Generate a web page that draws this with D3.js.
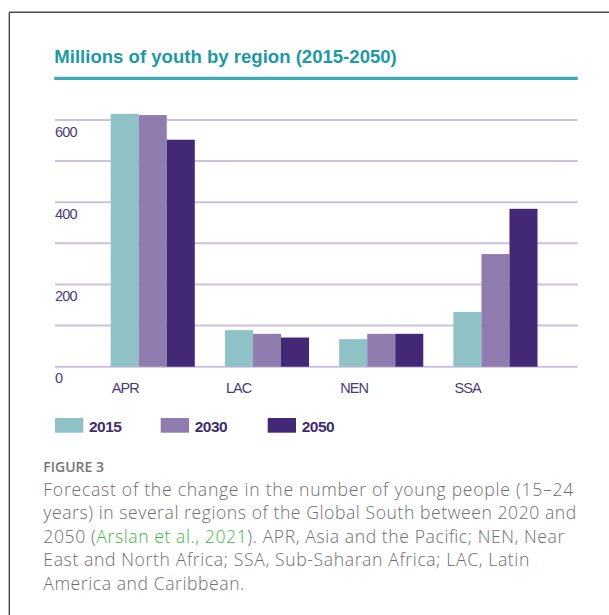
<!DOCTYPE html>
<html>
<head>
<meta charset="utf-8">
<script src="https://cdn.jsdelivr.net/npm/d3@7"></script>
<style>
  html, body { margin: 0; padding: 0; background: #fff; }
  svg { display: block; }
</style>
</head>
<body>
<svg id="chart" width="609" height="615"></svg>
<script>
// ---- data ----
const regions = ["APR", "LAC", "NEN", "SSA"];
const seriesNames = ["2015", "2030", "2050"];
const values2015 = [615, 89, 67, 133];
const values2030 = [612, 80, 80, 274];
const values2050 = [552, 71, 80, 384];
const gridTicks = [0, 100, 200, 300, 400, 500, 600];
const labelTicks = [0, 200, 400, 600];
const titleText = "Millions of youth by region (2015-2050)";
const figureLabel = "FIGURE 3";
const captionLines = [
  [["Forecast of the change in the number of young people (15\u201324", 0]],
  [["years) in several regions of the Global South between 2020 and", 0]],
  [["2050 (", 0], ["Arslan et al., 2021", 1], ["). APR, Asia and the Pacific; NEN, Near", 0]],
  [["East and North Africa; SSA, Sub-Saharan Africa; LAC, Latin", 0]],
  [["America and Caribbean.", 0]]
];

// ---- styles ----
const colors = ["#8fc2c6", "#907cae", "#432876"];
const gridColor = "#cbc0dd";
const axisTextColor = "#4a3c78";
const tealTitle = "#1b9aa6";
const captionGray = "#6e6e6e";
const linkGreen = "#3db54a";

const seriesValues = [values2015, values2030, values2050];
const table = regions.map((r, i) => ({
  region: r,
  vals: seriesNames.map((s, j) => ({ series: s, idx: j, value: seriesValues[j][i] }))
}));

const svg = d3.select("#chart");

// frame
svg.append("line").attr("x1", 9.3).attr("x2", 609).attr("y1", 12.3).attr("y2", 12.3)
  .attr("stroke", "#4a4a4a").attr("stroke-width", 1.4);
svg.append("line").attr("x1", 9.3).attr("x2", 9.3).attr("y1", 12.3).attr("y2", 615)
  .attr("stroke", "#4a4a4a").attr("stroke-width", 1.4);

// title
svg.append("text")
  .attr("x", 54.3).attr("y", 63.3)
  .attr("font-family", "'Liberation Sans', Arial, sans-serif")
  .attr("font-weight", "bold")
  .attr("font-size", 19)
  .attr("fill", tealTitle)
  .attr("textLength", 342.5)
  .attr("lengthAdjust", "spacingAndGlyphs")
  .text(titleText);
svg.append("line").attr("x1", 54.3).attr("x2", 577.7).attr("y1", 78.3).attr("y2", 78.3)
  .attr("stroke", "#3aabb7").attr("stroke-width", 3.2);

// scales
const y = d3.scaleLinear().domain([0, 600]).range([366.7, 120]);
const x0 = d3.scaleBand().domain(regions).range([110.7, 537.5]).paddingInner(0.264).paddingOuter(0);
const x1 = d3.scaleBand().domain(seriesNames).range([0, x0.bandwidth()]).padding(0);

// gridlines
svg.append("g").selectAll("line").data(gridTicks).join("line")
  .attr("x1", 55).attr("x2", 577.7)
  .attr("y1", d => y(d)).attr("y2", d => y(d))
  .attr("stroke", gridColor).attr("stroke-width", 2);

// y labels
svg.append("g").selectAll("text").data(labelTicks).join("text")
  .attr("x", 55).attr("y", d => y(d) + 16.5)
  .attr("font-family", "'Liberation Sans', Arial, sans-serif")
  .attr("font-size", 14.5)
  .attr("letter-spacing", -0.8)
  .attr("fill", axisTextColor)
  .text(d => d);

// bars
const groups = svg.append("g").selectAll("g").data(table).join("g")
  .attr("transform", d => `translate(${x0(d.region)},0)`);
groups.selectAll("rect").data(d => d.vals).join("rect")
  .attr("x", d => x1(d.series))
  .attr("width", x1.bandwidth())
  .attr("y", d => y(d.value))
  .attr("height", d => y(0) - y(d.value))
  .attr("fill", d => colors[d.idx]);

// x labels
svg.append("g").selectAll("text").data(regions).join("text")
  .attr("x", d => x0(d) + 1)
  .attr("y", 393.3)
  .attr("font-family", "'Liberation Sans', Arial, sans-serif")
  .attr("font-size", 14.5)
  .attr("letter-spacing", -0.9)
  .attr("fill", axisTextColor)
  .text(d => d);

// legend
const legendX = [55, 160.7, 267.7];
const lg = svg.append("g").selectAll("g").data(seriesNames).join("g")
  .attr("transform", (d, i) => `translate(${legendX[i]},418)`);
lg.append("rect").attr("width", 28.3).attr("height", 14.7).attr("fill", (d, i) => colors[i]);
lg.append("text").attr("x", 34).attr("y", 13.7)
  .attr("font-family", "'Liberation Sans', Arial, sans-serif")
  .attr("font-weight", "bold")
  .attr("font-size", 15.5)
  .attr("letter-spacing", -0.5)
  .attr("fill", "#3f2c6e")
  .text(d => d);

// caption
svg.append("text")
  .attr("x", 43.3).attr("y", 471.7)
  .attr("font-family", "'Open Sans', sans-serif")
  .attr("font-weight", 600)
  .attr("font-size", 14)
  .attr("fill", "#767676")
  .text(figureLabel);

const captionBaselines = [495.7, 519.3, 542.8, 566.3, 589.9];
const captionWidths = [530, 533, 521, 486, 201];
captionLines.forEach((segs, i) => {
  const t = svg.append("text")
    .attr("x", 43.3).attr("y", captionBaselines[i])
    .attr("font-family", "'Open Sans', sans-serif")
    .attr("font-weight", 300)
    .attr("font-size", 17.6)
    .attr("fill", captionGray);
  segs.forEach(s => {
    t.append("tspan").attr("fill", s[1] ? linkGreen : captionGray).text(s[0]);
  });
  t.attr("textLength", captionWidths[i]).attr("lengthAdjust", "spacing");
});
</script>
</body>
</html>
